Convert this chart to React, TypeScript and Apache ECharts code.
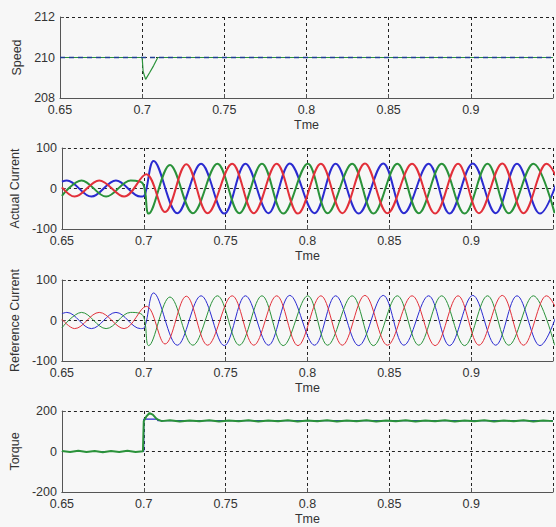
import React, { useEffect, useRef } from "react";
import * as echarts from "echarts";

// ---- data ----
const xTicks = { min: 0.65, max: 0.95, interval: 0.05 };

// Speed panel
const speedRef: number[][] = [[0.65, 210], [0.95, 210]];
const speedAct: number[][] = [
  [0.65, 210], [0.7, 210], [0.7006, 209.3], [0.7021, 208.92], [0.7045, 209.25],
  [0.707, 209.6], [0.7095, 210], [0.95, 210],
];

// Current extrema (time, value) per phase
const phaseBlue: number[][] = [
  [0.65, 17], [0.653, 20], [0.668, -20], [0.683, 20], [0.698, -20], [0.7005, -17],
  [0.706, 68], [0.7205, -61], [0.735, 61], [0.7492, -62], [0.7621, 61], [0.7762, -61],
  [0.7892, 62], [0.8043, -61], [0.8172, 61], [0.8313, -62], [0.8463, 62], [0.8589, -61],
  [0.874, 61], [0.8868, -62], [0.901, 62], [0.915, -61], [0.928, 61], [0.942, -62], [0.956, 61],
];
const phaseRed: number[][] = [
  [0.65, 3], [0.6578, -20], [0.6728, 20], [0.688, -20], [0.7015, 35], [0.713, -58],
  [0.726, 60], [0.739, -61], [0.754, 61], [0.7672, -61], [0.7812, 61], [0.7942, -62],
  [0.8082, 61], [0.8213, -61], [0.8351, 62], [0.8489, -61], [0.8639, 61], [0.878, -62],
  [0.892, 61], [0.9048, -61], [0.919, 62], [0.932, -61], [0.946, 61], [0.96, -61],
];
const phaseGreen: number[][] = [
  [0.65, -18], [0.662, 20], [0.677, -20], [0.692, 20], [0.6995, 12], [0.703, -62],
  [0.716, 58], [0.73, -61], [0.745, 61], [0.7584, -61], [0.7722, 61], [0.7852, -62],
  [0.8002, 61], [0.8123, -61], [0.8273, 61], [0.8403, -62], [0.8549, 61], [0.868, -61],
  [0.882, 61], [0.896, -62], [0.91, 61], [0.923, -61], [0.938, 61], [0.951, -61],
];

// Torque panel
const torqueRef: number[][] = [
  [0.65, 0], [0.7, 0], [0.7, 160], [0.7085, 160], [0.7085, 152], [0.95, 152],
];
const torqueAct: number[][] = [
  [0.65, 2], [0.655, -3], [0.66, 4], [0.665, -2], [0.67, 3], [0.675, -4], [0.68, 2],
  [0.685, -3], [0.69, 4], [0.695, -2], [0.6995, 1], [0.7, 150], [0.7015, 172],
  [0.7035, 190], [0.7055, 182], [0.708, 160], [0.711, 150], [0.716, 154], [0.722, 148],
  [0.728, 153], [0.734, 149], [0.74, 154], [0.746, 148], [0.752, 153], [0.758, 149],
  [0.764, 154], [0.77, 148], [0.776, 153], [0.782, 149], [0.788, 154], [0.794, 148],
  [0.8, 153], [0.806, 149], [0.812, 154], [0.818, 148], [0.824, 153], [0.83, 149],
  [0.836, 154], [0.842, 148], [0.848, 153], [0.854, 149], [0.86, 154], [0.866, 148],
  [0.872, 153], [0.878, 149], [0.884, 154], [0.89, 148], [0.896, 153], [0.902, 149],
  [0.908, 154], [0.914, 148], [0.92, 153], [0.926, 149], [0.932, 154], [0.938, 148],
  [0.944, 153], [0.95, 150],
];

const panelNames = ["Speed", "Actual Current", "Reference Current", "Torque"];
const yRanges = [
  { min: 208, max: 212, interval: 2 },
  { min: -100, max: 100, interval: 100 },
  { min: -100, max: 100, interval: 100 },
  { min: -200, max: 200, interval: 200 },
];

const BLUE = "#2b2bd0";
const RED = "#e2303a";
const GREEN = "#2a923a";
const TXT = "#333";
const FONT = "Liberation Sans, Arial, sans-serif";

export default function App() {
  const ref = useRef<HTMLDivElement>(null);
  useEffect(() => {
    const chart = echarts.init(ref.current!, null, { renderer: "svg" });
    const tops = [17, 148, 280, 411];
    const grids = tops.map((t) => ({ left: 60, width: 499, top: t, height: 81 }));
    const dash = { type: [3, 3], color: "#222", width: 1 };
    const xAxes = tops.map((_, i) => ({
      gridIndex: i,
      type: "value",
      ...xTicks,
      name: "Tme",
      nameLocation: "middle",
      nameGap: 20,
      nameTextStyle: { color: TXT, fontSize: 12.5, fontFamily: FONT, lineHeight: 13 },
      axisLine: { show: true, onZero: false, lineStyle: { color: "#555" } },
      axisTick: { show: true, inside: true, length: 4, lineStyle: { color: "#555" } },
      axisLabel: {
        color: TXT, fontSize: 12.5, fontFamily: FONT, margin: 6, lineHeight: 12,
        formatter: (v: number) => {
          const s = String(Math.round(v * 100) / 100);
          return s === "0.95" ? "" : s;
        },
      },
      splitLine: { show: true, lineStyle: dash },
    }));
    const yAxes = tops.map((_, i) => ({
      gridIndex: i,
      type: "value",
      ...yRanges[i],
      name: panelNames[i],
      nameLocation: "middle",
      nameGap: i === 0 ? 33 : 36,
      nameTextStyle: { color: TXT, fontSize: 12.5, fontFamily: FONT },
      axisLine: { show: true, lineStyle: { color: "#555" } },
      axisTick: { show: true, inside: true, length: 4, lineStyle: { color: "#555" } },
      axisLabel: { color: TXT, fontSize: 12.5, fontFamily: FONT, margin: 5, lineHeight: 11 },
      splitLine: { show: true, lineStyle: dash },
    }));
    const line = (data: number[][], idx: number, color: string, width: number, extra: any = {}) => ({
      type: "line",
      xAxisIndex: idx,
      yAxisIndex: idx,
      data,
      symbol: "none",
      lineStyle: { color, width },
      silent: true,
      ...extra,
    });
    const sm = { smooth: 0.36 };
    chart.setOption({
      animation: false,
      backgroundColor: "#f7f7f7",
      grid: grids,
      xAxis: xAxes,
      yAxis: yAxes,
      series: [
        line(speedAct, 0, GREEN, 1.2),
        line(speedRef, 0, "#1f3f95", 1.6, { lineStyle: { color: "#1f3f95", width: 1.6, type: [5, 4] } }),
        line(phaseBlue, 1, BLUE, 2, sm),
        line(phaseGreen, 1, GREEN, 2, sm),
        line(phaseRed, 1, RED, 2, sm),
        line(phaseBlue, 2, BLUE, 1, sm),
        line(phaseGreen, 2, GREEN, 1, sm),
        line(phaseRed, 2, RED, 1, sm),
        line(torqueRef, 3, BLUE, 1.2),
        line(torqueAct, 3, GREEN, 2),
      ],
    });
    return () => chart.dispose();
  }, []);
  return (
    <div
      ref={ref}
      style={{ position: "absolute", left: 0, top: 0, width: 556, height: 527 }}
    />
  );
}
